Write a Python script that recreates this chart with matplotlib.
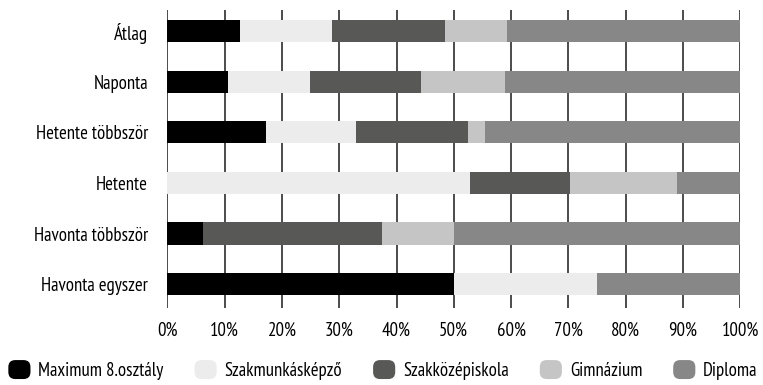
import numpy as np
import matplotlib
matplotlib.use("Agg")
import matplotlib.pyplot as plt
from matplotlib.patches import FancyBboxPatch
from matplotlib.legend_handler import HandlerPatch

plt.rcParams['font.family'] = ['PT Sans Narrow', 'DejaVu Sans']

# Gyakoriság kategóriák (felülről lefelé)
categories = ['Átlag', 'Naponta', 'Hetente többször', 'Hetente',
              'Havonta többször', 'Havonta egyszer']

# Iskolai végzettség szerinti megoszlás (%)
max8 = [12.7, 10.5, 17.2, 0.0, 6.25, 50.0]
szakmunkas = [16.0, 14.4, 15.7, 52.8, 0.0, 25.0]
szakkozep = [19.8, 19.4, 19.6, 17.5, 31.25, 0.0]
gimnazium = [10.8, 14.7, 3.0, 18.7, 12.5, 0.0]
diploma = [40.7, 41.0, 44.5, 11.0, 50.0, 25.0]

series = ['Maximum 8.osztály', 'Szakmunkásképző', 'Szakközépiskola',
          'Gimnázium', 'Diploma']
colors = ['#000000', '#ececec', '#585856', '#c5c5c5', '#878787']
xticks = np.arange(0, 101, 10)
FS = 13.5


class RoundBoxHandler(HandlerPatch):
    def create_artists(self, legend, orig_handle, xdescent, ydescent,
                       width, height, fontsize, trans):
        p = FancyBboxPatch((-xdescent, -ydescent), width, height,
                           boxstyle='round,pad=0,rounding_size=5',
                           facecolor=orig_handle.get_facecolor(),
                           edgecolor='none', transform=trans)
        return [p]


fig = plt.figure(figsize=(7.63, 3.85), dpi=100)
ax = fig.add_axes([0.2195, 0.2, 0.7505, 0.774])

y = np.arange(len(categories))
left = np.zeros(len(categories))
handles = []
for name, vals, col in zip(series, [max8, szakmunkas, szakkozep, gimnazium, diploma], colors):
    vals = np.array(vals)
    b = ax.barh(y, vals, left=left, height=0.44, color=col, label=name, zorder=2)
    handles.append(b.patches[0])
    left += vals

ax.set_xlim(0, 100)
ax.set_ylim(5.47, -0.415)
ax.set_yticks(y)
ax.set_yticklabels(categories, fontsize=FS)
ax.set_xticks(xticks)
ax.set_xticklabels([f'{v}%' for v in xticks], fontsize=FS)
ax.tick_params(axis='y', length=0, pad=14)
ax.tick_params(axis='x', length=0, pad=10)
for s in ax.spines.values():
    s.set_visible(False)
ax.grid(axis='x', color='#1a1a1a', lw=1.1, zorder=1)
ax.set_axisbelow(True)

fig.legend(handles, series, loc='center', bbox_to_anchor=(0.502, 0.039),
           ncol=5, frameon=False, fontsize=FS,
           handler_map={h: RoundBoxHandler() for h in handles},
           handlelength=1.18, handleheight=1.18, handletextpad=0.42,
           columnspacing=1.65, borderpad=0.1)

fig.savefig('out.png', dpi=100)
